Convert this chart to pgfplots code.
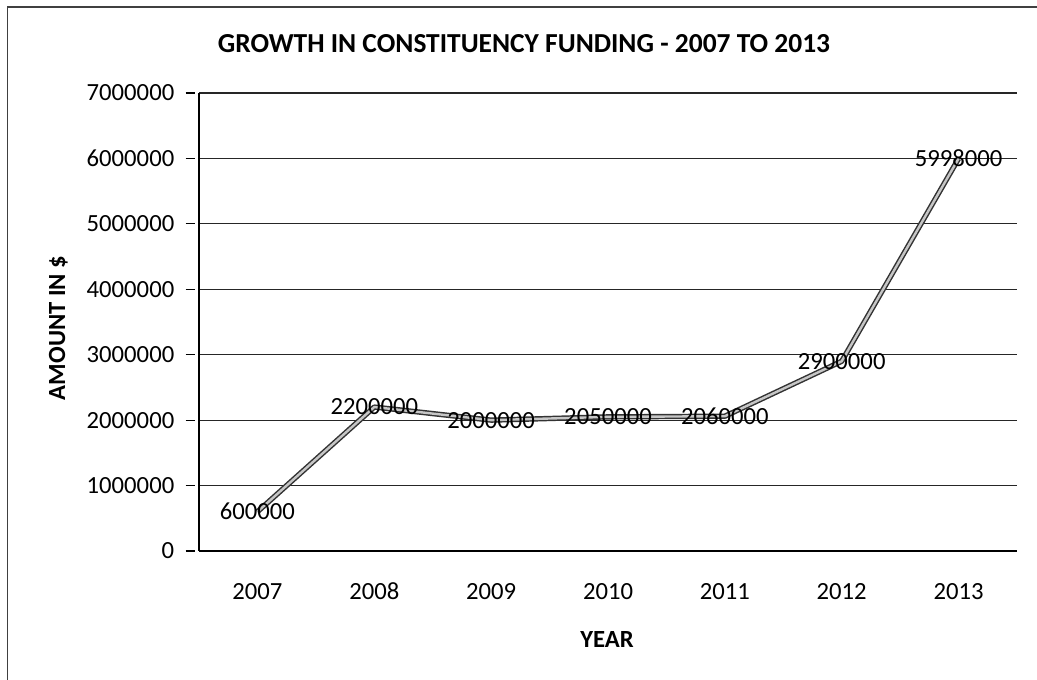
\documentclass[border=0pt]{standalone}
\usepackage{pgfplots}
\pgfplotsset{compat=1.18}
\usepackage{fontspec}
\setmainfont{Carlito}
\begin{document}
\begin{tikzpicture}
\useasboundingbox (0,0) rectangle (777.75pt,510pt);
\draw[black!75, line width=1pt] (5.6pt,0) -- (5.6pt,504.75pt) -- (777.75pt,504.75pt);
\node[anchor=base, font=\fontsize{20.6}{22}\selectfont\bfseries, inner sep=0pt] at (393pt,470.25pt) {GROWTH IN CONSTITUENCY FUNDING - 2007 TO 2013};
\node[anchor=base, rotate=90, font=\fontsize{18.5}{20}\selectfont\bfseries, inner sep=0pt] at (48.75pt,264pt) {AMOUNT IN \$};
\node[anchor=base, font=\fontsize{18.5}{20}\selectfont\bfseries, inner sep=0pt] at (455.25pt,24pt) {YEAR};
\begin{axis}[
  at={(149.25pt,96.75pt)}, anchor=south west,
  scale only axis, width=613.5pt, height=343.5pt,
  xmin=-0.5, xmax=6.5, ymin=0, ymax=7000000,
  scaled y ticks=false,
  axis x line=bottom, axis y line=left,
  axis line style={-, black, line width=0.9pt},
  xtick={0,1,2,3,4,5,6},
  xticklabels={2007,2008,2009,2010,2011,2012,2013},
  xtick style={draw=none},
  minor xtick={-0.5,0.5,1.5,2.5,3.5,4.5,5.5,6.5},
  minor tick length=4pt,
  minor x tick style={black, line width=0.8pt, yshift=-4pt},
  ytick={0,1000000,2000000,3000000,4000000,5000000,6000000,7000000},
  yticklabels={0,1000000,2000000,3000000,4000000,5000000,6000000,7000000},
  major tick length=6.75pt,
  ytick style={black, line width=0.8pt, xshift=-6.75pt},
  ymajorgrids, major grid style={black!85, line width=0.9pt},
  xticklabel style={anchor=base, inner sep=0pt, yshift=-33pt, font=\fontsize{18.5}{20}\selectfont},
  yticklabel style={anchor=east, inner sep=0pt, xshift=-15pt, font=\fontsize{18.5}{20}\selectfont},
  clip=false,
]
\addplot[black!80, line width=4pt, line join=round] coordinates {
(0,600000) (1,2200000) (2,2000000) (3,2050000) (4,2060000) (5,2900000) (6,5998000)};
\addplot[gray!45, line width=1.8pt, line join=round,
  nodes near coords, point meta=explicit symbolic,
  every node near coord/.append style={anchor=center, black, font=\fontsize{18.5}{20}\selectfont, inner sep=0pt}]
 coordinates {
(0,600000) [600000] (1,2200000) [2200000] (2,2000000) [2000000] (3,2050000) [2050000]
(4,2060000) [2060000] (5,2900000) [2900000] (6,5998000) [5998000]};
\end{axis}
\end{tikzpicture}
\end{document}
